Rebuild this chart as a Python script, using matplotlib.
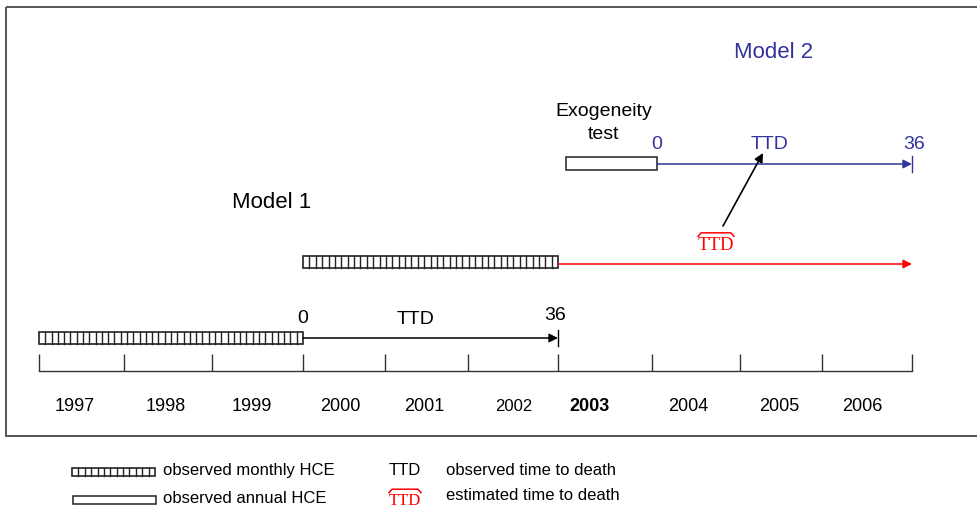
import matplotlib.pyplot as plt
import matplotlib.patches as patches

# timeline (x positions of the year boundaries as drawn)
years = ['1997', '1998', '1999', '2000', '2001', '2002', '2003', '2004', '2005', '2006']
year_edges = [39, 124, 212, 303, 385, 468, 558, 652, 740, 822, 912]
year_label_x = [75, 166, 252, 340, 424, 514, 590, 688, 779, 862]
months = [0, 36]  # follow-up window, in months

# model 1: monthly HCE 1997-1999, observed TTD 2000-2002
m1_hce = (0, 3)       # edge index start/end
m1_ttd = (3, 6)
# model 1 upper row: monthly HCE 2000-2002, estimated TTD after
m1b_hce = (3, 6)
m1b_est = (6, 10)
# model 2: annual HCE (exogeneity test), observed TTD
m2_hce = (566, 657)
m2_ttd = (657, 912)

BLUE = '#333399'
RED = '#ff0000'
plt.rcParams['font.family'] = ['Liberation Sans', 'DejaVu Sans']


def monthly_bar(ax, x0, x1, y, h, cell=6.3):
    ax.add_patch(patches.Rectangle((x0, y - h / 2), x1 - x0, h,
                                   fill=False, edgecolor='#222', lw=1.2))
    n = int(round((x1 - x0) / cell))
    step = (x1 - x0) / n
    for i in range(1, n):
        ax.plot([x0 + i * step] * 2, [y - h / 2, y + h / 2], color='#222', lw=1.0)


def annual_bar(ax, x0, x1, y, h):
    ax.add_patch(patches.Rectangle((x0, y - h / 2), x1 - x0, h,
                                   fill=False, edgecolor='#222', lw=1.1))


def arrow(ax, x0, y0, x1, y1, color, lw=1.1):
    ax.annotate('', xy=(x1, y1), xytext=(x0, y0),
                arrowprops=dict(arrowstyle='-|>', color=color, lw=lw,
                                mutation_scale=13, shrinkA=0, shrinkB=0))


def ttd_hat(ax, x, y, size):
    # serif TTD with an over-brace
    ax.text(x, y, 'TTD', color=RED, fontsize=size, family='Liberation Serif',
            ha='center', va='center')
    w = size * 1.33
    top = y - size * 0.9
    ax.plot([x - w, x - w + 3, x + w - 3, x + w],
            [top + 3.5, top, top, top + 3.5], color=RED, lw=1.1)


fig = plt.figure(figsize=(9.77, 5.10), dpi=100)
ax = fig.add_axes([0, 0, 1, 1])
ax.set_xlim(0, 977)
ax.set_ylim(510, 0)
ax.axis('off')

# frame
ax.add_patch(patches.Rectangle((6, 8), 1000, 429, fill=False,
                               edgecolor='#555', lw=1.4))

# year axis
ax.plot([year_edges[0], year_edges[-1]], [372, 372], color='#333', lw=1)
ax.vlines(year_edges, 355, 372, color='#333', lw=1)
for yr, xc in zip(years, year_label_x):
    if yr == '2003':
        ax.text(xc, 407, yr, ha='center', va='center', fontsize=13, weight='bold')
    elif yr == '2002':
        ax.text(xc, 407, yr, ha='center', va='center', fontsize=12)
    else:
        ax.text(xc, 407, yr, ha='center', va='center', fontsize=13)

# model 1, lower row
monthly_bar(ax, year_edges[m1_hce[0]], year_edges[m1_hce[1]], 339, 12)
xa, xb = year_edges[m1_ttd[0]], year_edges[m1_ttd[1]]
arrow(ax, xa, 339, xb, 339, 'black')
ax.plot([xb, xb], [331, 347], color='black', lw=1)
ax.text(xa, 319, str(months[0]), ha='center', va='center', fontsize=14)
ax.text(416, 320, 'TTD', ha='center', va='center', fontsize=14)
ax.text(xb - 3, 316, str(months[1]), ha='center', va='center', fontsize=14)

# model 1, upper row
ax.text(272, 203, 'Model 1', ha='center', va='center', fontsize=16)
monthly_bar(ax, year_edges[m1b_hce[0]], year_edges[m1b_hce[1]], 263, 12)
arrow(ax, year_edges[m1b_est[0]], 265, year_edges[m1b_est[1]], 265, RED)
ttd_hat(ax, 716, 246, 13.5)

# model 2
ax.text(774, 53, 'Model 2', ha='center', va='center', fontsize=16, color=BLUE)
ax.text(604, 112, 'Exogeneity', ha='center', va='center', fontsize=14)
ax.text(604, 135, 'test', ha='center', va='center', fontsize=14)
annual_bar(ax, m2_hce[0], m2_hce[1], 164, 13)
arrow(ax, m2_ttd[0], 165, m2_ttd[1], 165, BLUE)
ax.plot([m2_ttd[1], m2_ttd[1]], [157, 173], color=BLUE, lw=1)
ax.text(m2_ttd[0], 145, str(months[0]), ha='center', va='center', fontsize=14, color=BLUE)
ax.text(770, 145, 'TTD', ha='center', va='center', fontsize=14, color=BLUE)
ax.text(m2_ttd[1] + 2, 145, str(months[1]), ha='center', va='center', fontsize=14, color=BLUE)
arrow(ax, 723, 227, 763, 154, 'black', lw=1.2)

# legend
monthly_bar(ax, 72, 155, 473, 8)
ax.text(163, 471, 'observed monthly HCE', ha='left', va='center', fontsize=12)
annual_bar(ax, 73, 156, 501, 8)
ax.text(163, 499, 'observed annual HCE', ha='left', va='center', fontsize=12)
ax.text(405, 471, 'TTD', ha='center', va='center', fontsize=12)
ax.text(446, 471, 'observed time to death', ha='left', va='center', fontsize=12)
ttd_hat(ax, 405, 501, 12)
ax.text(446, 496, 'estimated time to death', ha='left', va='center', fontsize=12)

fig.savefig('out.png', dpi=100)
